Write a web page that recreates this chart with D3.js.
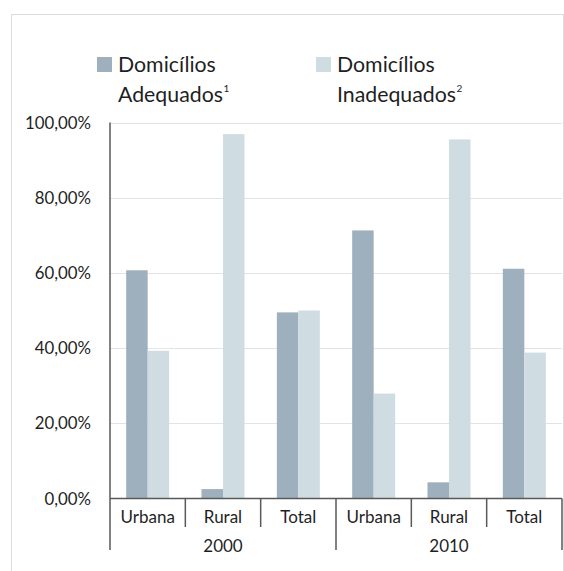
<!DOCTYPE html>
<html><head><meta charset="utf-8">
<script src="https://cdn.jsdelivr.net/npm/d3@7"></script>
<style>body{margin:0;background:#fff}svg{display:block;font-family:Lato,"Open Sans",sans-serif}</style>
</head><body><svg id="c" width="564" height="571"></svg>
<script>
const years = ["2000", "2010"];
const areas = ["Urbana", "Rural", "Total"];
const seriesNames = ["Domicílios Adequados", "Domicílios Inadequados"];
const seriesSup = ["1", "2"];
const adequados = [60.7, 2.5, 49.5, 71.3, 4.3, 61.1];
const inadequados = [39.3, 96.9, 50.0, 27.9, 95.5, 38.8];
const yTicks = [0, 20, 40, 60, 80, 100];
const colors = ["#9eb0be", "#cfdce1"];

(function () {
const svg = d3.select("#c");
const plotLeft = 110, plotRight = 562, plotTop = 122.5, base = 498.5;
const txt = "#1f1f1f";

// frame
svg.append("rect").attr("x", 11.5).attr("y", 14.5).attr("width", 552).attr("height", 600)
  .attr("fill", "none").attr("stroke", "#dcdcdc").attr("stroke-width", 1);

const cats = [];
years.forEach(yr => areas.forEach(a => cats.push(yr + "|" + a)));
const x = d3.scaleBand().domain(cats).range([plotLeft, plotRight]).paddingInner(0).paddingOuter(0);
const xs = d3.scaleBand().domain([0, 1]).range([0, x.bandwidth()]).paddingInner(0).paddingOuter(0.752);
const y = d3.scaleLinear().domain([0, 100]).range([base, plotTop]);

// gridlines
svg.append("g").selectAll("line").data(yTicks.filter(t => t > 0)).join("line")
  .attr("x1", plotLeft).attr("x2", plotRight)
  .attr("y1", d => Math.round(y(d)) + 0.5).attr("y2", d => Math.round(y(d)) + 0.5)
  .attr("stroke", "#e3e3e3").attr("stroke-width", 1.2);

// y tick labels
const fmt = v => v.toFixed(2).replace(".", ",") + "%";
svg.append("g").selectAll("text").data(yTicks).join("text")
  .attr("x", 91).attr("y", d => y(d)).attr("dy", "0.36em")
  .attr("text-anchor", "end").attr("font-size", 16.8).attr("fill", txt)
  .text(fmt);

// bars
const rows = cats.map((c, i) => ({c, vals: [adequados[i], inadequados[i]]}));
const g = svg.append("g");
rows.forEach(r => {
  g.selectAll(null).data(r.vals).join("rect")
    .attr("x", (d, j) => x(r.c) + xs(j))
    .attr("width", xs.bandwidth())
    .attr("y", d => y(d))
    .attr("height", d => base - y(d))
    .attr("fill", (d, j) => colors[j]);
});

// axes
const axisColor = "#595959";
svg.append("line").attr("x1", plotLeft).attr("x2", plotLeft).attr("y1", plotTop).attr("y2", 550)
  .attr("stroke", axisColor).attr("stroke-width", 1.5);
svg.append("line").attr("x1", plotLeft).attr("x2", plotRight).attr("y1", base).attr("y2", base)
  .attr("stroke", axisColor).attr("stroke-width", 1.5);
cats.forEach((c, i) => {
  if (i === 0) return;
  const xx = x(c);
  const long = (i % areas.length === 0);
  svg.append("line").attr("x1", xx).attr("x2", xx).attr("y1", base).attr("y2", long ? 550 : 527)
    .attr("stroke", axisColor).attr("stroke-width", 1.5);
});
svg.append("line").attr("x1", plotRight).attr("x2", plotRight).attr("y1", base).attr("y2", 550)
  .attr("stroke", axisColor).attr("stroke-width", 1.5);

// category labels
svg.append("g").selectAll("text").data(cats).join("text")
  .attr("x", d => x(d) + x.bandwidth() / 2).attr("y", 522.5)
  .attr("text-anchor", "middle").attr("font-size", 17).attr("fill", txt)
  .text(d => d.split("|")[1]);
// year labels
svg.append("g").selectAll("text").data(years).join("text")
  .attr("x", yr => {
    const a = x(yr + "|" + areas[0]);
    const b = x(yr + "|" + areas[areas.length - 1]) + x.bandwidth();
    return (a + b) / 2;
  })
  .attr("y", 552).attr("text-anchor", "middle").attr("font-size", 17).attr("fill", txt)
  .text(d => d);

// legend
const legX = [97, 316];
seriesNames.forEach((name, i) => {
  const lg = svg.append("g").attr("transform", `translate(${legX[i]},0)`);
  lg.append("rect").attr("x", 0).attr("y", 57).attr("width", 15).attr("height", 15).attr("fill", colors[i]);
  const parts = name.split(" ");
  lg.append("text").attr("x", 21).attr("y", 72).attr("font-size", 21.3).attr("fill", txt).text(parts[0]);
  const t = lg.append("text").attr("x", 21).attr("y", 102).attr("font-size", 21.3).attr("fill", txt);
  t.append("tspan").text(parts[1]);
  t.append("tspan").attr("font-size", 10).attr("dy", -10).attr("dx", 0.5).text(seriesSup[i]);
});
})();
</script></body></html>
